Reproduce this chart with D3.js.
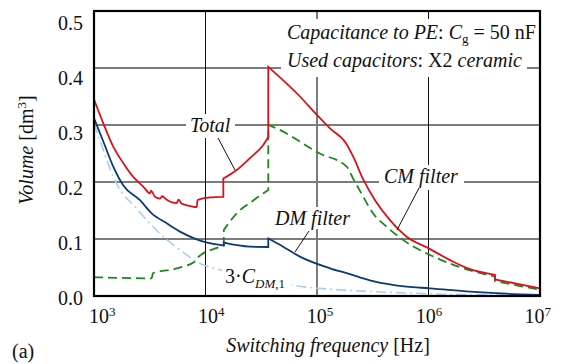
<!DOCTYPE html>
<html lang="en">
<head>
  <meta charset="UTF-8" />
  <title>Filter volume vs switching frequency</title>
  <script src="https://d3js.org/d3.v7.min.js"></script>
  <style>
    body { margin: 0; background: #fff; }
    text { font-family: "Liberation Serif", "Times New Roman", serif; font-size: 20px; fill: #111; }
  </style>
</head>
<body>
<div id="graph-space"></div>
<script>
  // values: frequency in Hz, volume in dm^3
  // (a repeated frequency means a vertical step in the curve)
  const totalFreq = [1000, 1212, 1489, 1832, 2250, 2766, 3177, 3244, 3524, 3907, 4074, 4487, 5516, 5727, 6118, 7264, 8340, 8480, 8927, 10970, 14450, 14450, 19040, 25060, 32960, 36560, 36560, 70300, 99300, 130800, 182000, 211700, 260400, 331300, 451600, 637400, 995000, 1560000, 2360000, 3950000, 3950000, 10000000]
  const totalVol = [0.345, 0.303, 0.262, 0.233, 0.209, 0.192, 0.180, 0.185, 0.174, 0.171, 0.175, 0.169, 0.163, 0.169, 0.162, 0.158, 0.156, 0.168, 0.170, 0.173, 0.174, 0.206, 0.221, 0.242, 0.265, 0.279, 0.402, 0.350, 0.318, 0.294, 0.268, 0.244, 0.204, 0.168, 0.133, 0.104, 0.084, 0.063, 0.047, 0.037, 0.029, 0.0135]

  const cmFreq = [1000, 3290, 3380, 5520, 8340, 8580, 13470, 14600, 14600, 19050, 26980, 36560, 36560, 43440, 106000, 184500, 211000, 260000, 318000, 422000, 594000, 1030000, 1560000, 2050000, 3950000, 3950000, 10000000]
  const cmVol = [0.033, 0.031, 0.040, 0.0485, 0.063, 0.068, 0.0865, 0.0895, 0.116, 0.145, 0.168, 0.186, 0.300, 0.294, 0.250, 0.227, 0.206, 0.174, 0.145, 0.1216, 0.098, 0.072, 0.057, 0.0486, 0.034, 0.026, 0.011]

  const dmFreq = [1000, 1212, 1489, 1832, 2586, 3290, 4488, 5900, 8340, 13470, 14600, 14600, 25000, 36560, 36560, 49700, 70300, 130800, 184500, 318000, 637000, 1030000, 2360000, 5000000, 10000000]
  const dmVol = [0.312, 0.271, 0.227, 0.194, 0.168, 0.145, 0.1275, 0.113, 0.0995, 0.0895, 0.0885, 0.0935, 0.0865, 0.0860, 0.101, 0.0865, 0.069, 0.0486, 0.040, 0.026, 0.0163, 0.0135, 0.0075, 0.004, 0.002]

  const cdmFreq = [1000, 1212, 1489, 1832, 2250, 2974, 4190, 5900, 8930, 13490, 35400, 70300, 130800, 300000, 1000000, 10000000]
  const cdmVol = [0.303, 0.256, 0.209, 0.178, 0.160, 0.133, 0.104, 0.081, 0.057, 0.046, 0.028, 0.017, 0.012, 0.008, 0.004, 0.001]

  const xTicks = [1e3, 1e4, 1e5, 1e6, 1e7]
  const yTicks = [0, 0.1, 0.2, 0.3, 0.4, 0.5]

  const width = 566
  const height = 364
  const margin = { left: 94, top: 11, right: 26, bottom: 68 }
  const x0 = margin.left, x1 = width - margin.right
  const y0 = margin.top, y1 = height - margin.bottom

  const svg = d3.select("#graph-space")
    .append("svg")
    .attr("width", width)
    .attr("height", height)

  const xScale = d3.scaleLog().domain([1e3, 1e7]).range([x0, x1])
  const yScale = d3.scaleLinear().domain([0, 0.5]).range([y1, y0])
  // tick labels sit slightly inside the ends of the range in the original
  const xLabelScale = d3.scaleLog().domain([1e3, 1e7]).range([x0 + 5, x1 - 5.5])
  const yLabelScale = d3.scaleLinear().domain([0, 0.5]).range([y1 + 2, y0 + 12])

  // grid
  svg.append("g").selectAll("line")
    .data(yTicks.slice(1, 5))
    .join("line")
    .attr("x1", x0).attr("x2", x1)
    .attr("y1", d => yScale(d)).attr("y2", d => yScale(d))
    .attr("stroke", "#7c7c7c").attr("stroke-width", 2)
  svg.append("g").selectAll("line")
    .data(xTicks.slice(1, 4))
    .join("line")
    .attr("x1", d => xScale(d)).attr("x2", d => xScale(d))
    .attr("y1", y0).attr("y2", y1)
    .attr("stroke", d => d === 1e5 ? "#7c7c7c" : "#111")
    .attr("stroke-width", d => d === 1e5 ? 2 : 1)

  // curves: split at vertical steps, smooth each run, join with straight lines
  const line = d3.line()
    .x(d => xScale(d[0]))
    .y(d => yScale(d[1]))
    .curve(d3.curveMonotoneX)
  function stepPath(freq, vol) {
    const runs = [[]]
    freq.forEach((f, i) => {
      const run = runs[runs.length - 1]
      if (run.length && run[run.length - 1][0] === f) runs.push([[f, vol[i]]])
      else run.push([f, vol[i]])
    })
    return runs.map((r, i) => {
      const s = r.length > 1 ? line(r) : "M" + xScale(r[0][0]) + "," + yScale(r[0][1])
      return i ? "L" + s.slice(1) : s
    }).join("")
  }

  const series = [
    { f: cdmFreq, v: cdmVol, color: "#a9cff2", w: 1.6, dash: "10,4,2,4" },
    { f: cmFreq, v: cmVol, color: "#1a8a1a", w: 1.8, dash: "9,5" },
    { f: dmFreq, v: dmVol, color: "#0d3b70", w: 1.8, dash: null },
    { f: totalFreq, v: totalVol, color: "#d9121c", w: 1.8, dash: null }
  ]
  svg.append("g").selectAll("path")
    .data(series)
    .join("path")
    .attr("d", d => stepPath(d.f, d.v))
    .attr("fill", "none")
    .attr("stroke", d => d.color)
    .attr("stroke-width", d => d.w)
    .attr("stroke-dasharray", d => d.dash)

  // white boxes behind the labels inside the plot
  const boxes = [
    [281, 19, 246, 58],
    [186, 114, 49, 24],
    [379, 165, 85, 25],
    [271, 207, 84, 22],
    [222, 266, 70, 25]
  ]
  svg.append("g").selectAll("rect")
    .data(boxes)
    .join("rect")
    .attr("x", d => d[0]).attr("y", d => d[1])
    .attr("width", d => d[2]).attr("height", d => d[3])
    .attr("fill", "#fff")

  // frame
  svg.append("rect")
    .attr("x", x0).attr("y", y0)
    .attr("width", x1 - x0).attr("height", y1 - y0)
    .attr("fill", "none").attr("stroke", "#000").attr("stroke-width", 2.2)

  // tick labels
  svg.append("g").selectAll("text")
    .data(yTicks)
    .join("text")
    .attr("x", 83)
    .attr("y", d => yLabelScale(d) + 6.5)
    .attr("text-anchor", "end")
    .text(d => d3.format(".1f")(d))

  const xt = svg.append("g").selectAll("text")
    .data(xTicks)
    .join("text")
    .attr("x", d => xLabelScale(d) - 10)
    .attr("y", 323)
  xt.append("tspan").text("10")
  xt.append("tspan").attr("dy", -7).style("font-size", "13px").text(d => Math.round(Math.log10(d)))

  // axis titles
  const xl = svg.append("text").attr("x", 328).attr("y", 352).attr("text-anchor", "middle")
  xl.append("tspan").style("font-style", "italic").text("Switching frequency")
  xl.append("tspan").text(" [Hz]")

  const yl = svg.append("text")
    .attr("transform", "translate(33,150) rotate(-90)")
    .attr("text-anchor", "middle")
  yl.append("tspan").style("font-style", "italic").text("Volume")
  yl.append("tspan").text(" [dm")
  yl.append("tspan").attr("dy", -7).style("font-size", "13px").text("3")
  yl.append("tspan").attr("dy", 7).text("]")

  svg.append("text").attr("x", 12).attr("y", 358).text("(a)")

  // annotation box
  const l1 = svg.append("text").attr("x", 287).attr("y", 39)
  l1.append("tspan").style("font-style", "italic").text("Capacitance to PE")
  l1.append("tspan").text(": ")
  l1.append("tspan").style("font-style", "italic").text("C")
  l1.append("tspan").attr("dy", 4).style("font-size", "13px").text("g")
  l1.append("tspan").attr("dy", -4).text(" = 50 nF")
  const l2 = svg.append("text").attr("x", 287).attr("y", 66.5)
  l2.append("tspan").style("font-style", "italic").text("Used capacitors")
  l2.append("tspan").text(": X2 ")
  l2.append("tspan").style("font-style", "italic").text("ceramic")

  // curve labels with leader lines
  const labels = [
    { text: "Total", x: 190, y: 132, from: [218, 138], to: [235, 170] },
    { text: "CM filter", x: 384, y: 183, from: [419, 188], to: [397, 230] },
    { text: "DM filter", x: 275, y: 224.5, from: [309, 231], to: [295, 252] }
  ]
  svg.append("g").selectAll("text")
    .data(labels)
    .join("text")
    .attr("x", d => d.x).attr("y", d => d.y)
    .style("font-style", "italic")
    .text(d => d.text)
  svg.append("g").selectAll("line")
    .data(labels)
    .join("line")
    .attr("x1", d => d.from[0]).attr("y1", d => d.from[1])
    .attr("x2", d => d.to[0]).attr("y2", d => d.to[1])
    .attr("stroke", "#111").attr("stroke-width", 1)

  const cl = svg.append("text").attr("x", 225).attr("y", 283)
  cl.append("tspan").text("3·")
  cl.append("tspan").style("font-style", "italic").text("C")
  cl.append("tspan").attr("dy", 5).style("font-size", "13px").style("font-style", "italic").text("DM")
  cl.append("tspan").style("font-size", "13px").text(",1")
</script>
</body>
</html>
